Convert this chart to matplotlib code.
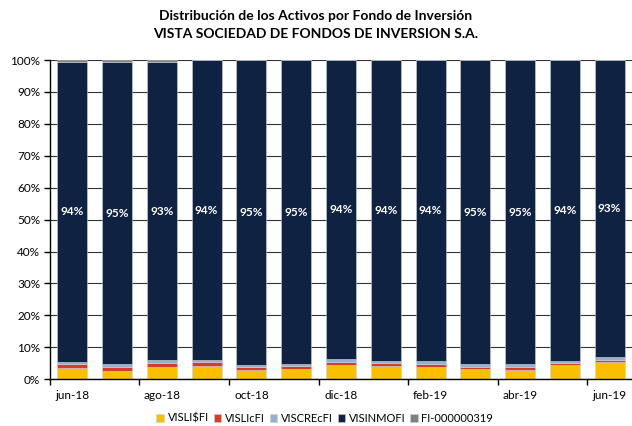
import matplotlib.pyplot as plt
import numpy as np

months = ["jun-18", "jul-18", "ago-18", "sep-18", "oct-18", "nov-18", "dic-18",
          "ene-19", "feb-19", "mar-19", "abr-19", "may-19", "jun-19"]
vislisfi = [3.5, 2.6, 3.85, 4.1, 2.8, 3.2, 4.5, 4.2, 3.9, 3.1, 2.9, 4.4, 5.4]
vislicfi = [1.25, 1.25, 1.35, 1.15, 0.95, 0.95, 1.0, 1.0, 0.9, 0.75, 0.9, 0.7, 0.5]
viscrecfi = [0.75, 0.75, 0.8, 0.7, 0.8, 0.5, 0.7, 0.6, 0.8, 0.75, 0.8, 0.7, 0.9]
fi_319 = [0.5, 0.5, 0.7, 0, 0, 0, 0, 0, 0, 0, 0, 0, 0]
visinmofi = [100 - a - b - c - d for a, b, c, d in zip(vislisfi, vislicfi, viscrecfi, fi_319)]

series = [("VISLI$FI", vislisfi, "#F9BF00"),
          ("VISLIcFI", vislicfi, "#D43D27"),
          ("VISCREcFI", viscrecfi, "#95B0CF"),
          ("VISINMOFI", visinmofi, "#0F2242"),
          ("FI-000000319", fi_319, "#808080")]

plt.rcParams['font.family'] = ['Lato', 'DejaVu Sans']

fig = plt.figure(figsize=(6.32, 4.26), dpi=100)
ax = fig.add_axes([0.079, 0.110, 0.921, 0.749])

x = np.arange(len(months))
bottom = np.zeros(len(months))
for name, vals, col in series:
    ax.bar(x, vals, 0.67, bottom=bottom, color=col, label=name,
           edgecolor="#c9d0dc", linewidth=0.4, zorder=2)
    if name == "VISINMOFI":
        for xi, b, v in zip(x, bottom, vals):
            ax.text(xi, b + v / 2, f"{v:.0f}%", color="white", fontsize=8.5,
                    fontweight="bold", ha="center", va="center", zorder=3)
    bottom += np.array(vals)

ax.set_ylim(0, 100)
ax.set_xlim(-0.5, len(months) - 0.5)
ax.set_yticks(np.arange(0, 101, 10))
ax.set_yticklabels([f"{v}%" for v in range(0, 101, 10)], fontsize=8.5)
ax.yaxis.grid(True, color="#333333", linewidth=0.8, zorder=0)
ax.set_axisbelow(True)

ax.set_xticks(x[::2])
ax.set_xticklabels(months[::2], fontsize=8.5)
ax.tick_params(axis="x", length=0, pad=8)
ax.set_xticks(np.arange(-0.5, len(months), 2), minor=True)
ax.tick_params(axis="x", which="minor", length=4, width=1, direction="out")
ax.tick_params(axis="y", length=4, width=1, direction="out", pad=3)

for s in ["top", "right"]:
    ax.spines[s].set_visible(False)
ax.spines["left"].set_linewidth(1)
ax.spines["bottom"].set_linewidth(1)

fig.text(0.5, 0.962, "Distribución de los Activos por Fondo de Inversión",
         ha="center", va="center", fontsize=10, fontweight="bold")
fig.text(0.5, 0.920, "VISTA SOCIEDAD DE FONDOS DE INVERSION S.A.",
         ha="center", va="center", fontsize=10, fontweight="bold")

fig.legend(loc="center", bbox_to_anchor=(0.514, 0.018), ncol=5, frameon=False,
           fontsize=8, handlelength=0.7, handleheight=0.7, handletextpad=0.3,
           columnspacing=0.45)

fig.savefig("out.png", dpi=100)
